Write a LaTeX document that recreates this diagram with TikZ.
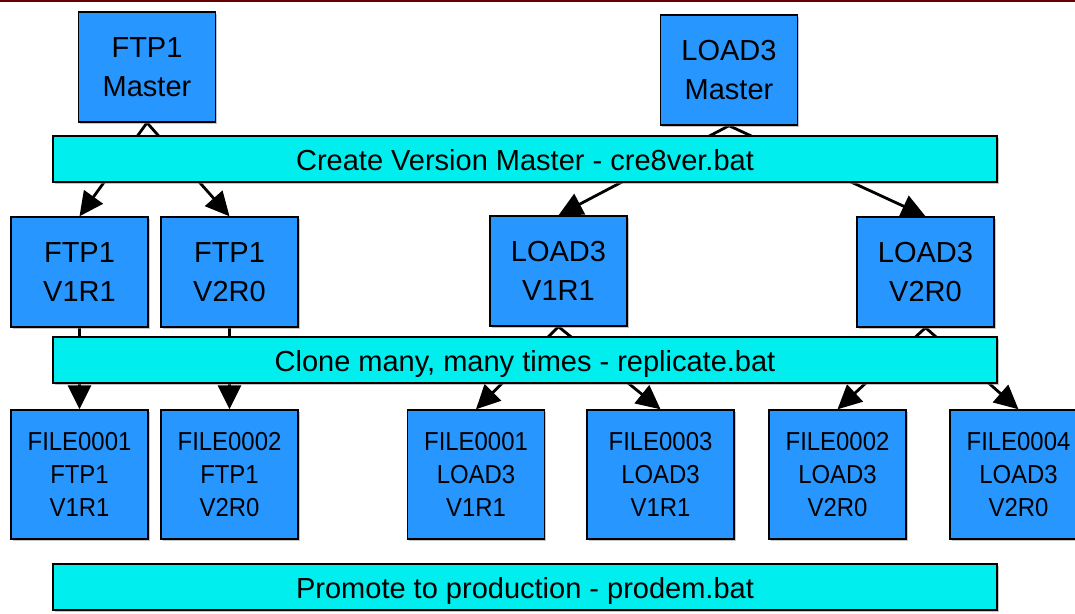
\documentclass[tikz,border=0pt]{standalone}
\usepackage{fontspec}
\setmainfont{Liberation Sans}
\newfontfamily\narrowsans[FakeStretch=0.92]{Liberation Sans}
\usetikzlibrary{arrows.meta,shadows}
\definecolor{boxblue}{RGB}{40,150,255}
\definecolor{barcyan}{RGB}{0,238,238}
\definecolor{rulered}{RGB}{100,0,0}
\pgfdeclarelayer{backdrop}
\pgfdeclarelayer{edges}
\pgfsetlayers{backdrop,edges,main}
\begin{document}
\begin{tikzpicture}[x=1pt,y=-1pt,
  box/.style={draw=black, line width=1.4pt, fill=boxblue, inner sep=0pt,
    align=center, minimum width=137pt,
    drop shadow={shadow xshift=1.5pt, shadow yshift=-1.5pt, fill=black!45}},
  bigbox/.style={box, minimum height=110pt, font=\fontsize{29}{39.5}\selectfont,
    execute at begin node={\rule{0pt}{24pt}}},
  filebox/.style={box, minimum height=129pt, font=\narrowsans\fontsize{26}{33}\selectfont,
    execute at begin node={\rule{0pt}{28pt}}},
  bar/.style={draw=black, line width=1.4pt, fill=barcyan, inner sep=0pt,
    minimum width=944pt, minimum height=46pt, font=\fontsize{29}{35}\selectfont,
    text height=22pt, text depth=0pt,
    drop shadow={shadow xshift=1.5pt, shadow yshift=-1.5pt, fill=black!45}},
  link/.style={line width=2.8pt, -{Triangle[length=24pt,width=23pt]}}
]
\useasboundingbox (0,0) rectangle (1075,613);
\begin{pgfonlayer}{backdrop}
\fill[white] (0,0) rectangle (1075,613);
\end{pgfonlayer}
\draw[rulered, line width=1.6pt] (0,0.8) -- (1075,0.8);

% masters
\node[bigbox] (ftpm) at (147,67) {FTP1\\Master};
\node[bigbox] (loadm) at (729,70) {LOAD3\\Master};

% versions
\node[bigbox] (ftpa) at (79.5,272) {FTP1\\V1R1};
\node[bigbox] (ftpb) at (229.5,272) {FTP1\\V2R0};
\node[bigbox] (loada) at (558.5,271) {LOAD3\\V1R1};
\node[bigbox] (loadb) at (925.5,272) {LOAD3\\V2R0};

% replicated files
\node[filebox] (f1) at (79.5,474.5) {FILE0001\\FTP1\\V1R1};
\node[filebox] (f2) at (229.5,474.5) {FILE0002\\FTP1\\V2R0};
\node[filebox] (f3) at (476,474.5) {FILE0001\\LOAD3\\V1R1};
\node[filebox, minimum width=147pt] (f4) at (660.5,474.5) {FILE0003\\LOAD3\\V1R1};
\node[filebox] (f5) at (837.5,474.5) {FILE0002\\LOAD3\\V2R0};
\node[filebox] (f6) at (1018.5,474.5) {FILE0004\\LOAD3\\V2R0};

% process bars
\node[bar] (create) at (525,159) {Create Version Master - cre8ver.bat};
\node[bar] (clone) at (525,360) {Clone many, many times - replicate.bat};
\node[bar] (promote) at (525,587) {Promote to production - prodem.bat};

% connectors run underneath the bars
\begin{pgfonlayer}{edges}
\draw[link] (ftpm.south) -- (ftpa.north);
\draw[link] (ftpm.south) -- (ftpb.north);
\draw[link] (loadm.south) -- (loada.north);
\draw[link] (loadm.south) -- (loadb.north);
\draw[link] (ftpa.south) -- (f1.north);
\draw[link] (ftpb.south) -- (f2.north);
\draw[link] (loada.south) -- (f3.north);
\draw[link] (loada.south) -- (f4.north);
\draw[link] (loadb.south) -- (f5.north);
\draw[link] (loadb.south) -- (f6.north);
\end{pgfonlayer}
\end{tikzpicture}
\end{document}
